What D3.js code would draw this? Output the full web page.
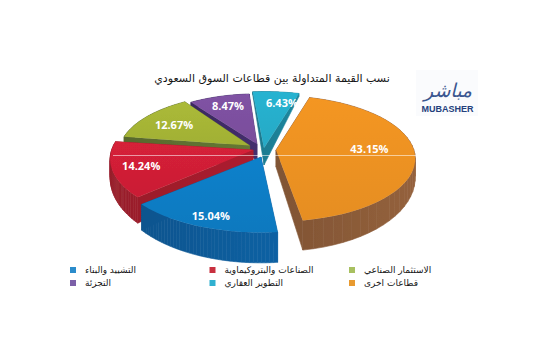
<!DOCTYPE html>
<html>
<head>
<meta charset="utf-8">
<script src="https://cdn.jsdelivr.net/npm/d3@7"></script>
<style>
  html, body { margin: 0; padding: 0; background: #fff; }
  svg { display: block; }
  .pct { font-family: "Open Sans", sans-serif; font-weight: 700; font-size: 11px; fill: #fff; text-anchor: middle; }
  .ar { font-family: "DejaVu Sans", sans-serif; direction: rtl; fill: #151515; }
</style>
</head>
<body>
<svg id="chart" width="542" height="354"></svg>
<script>
  const title = 'نسب القيمة المتداولة بين قطاعات السوق السعودي';

  // pie order, clockwise from the orange slice
  const sectors = ['قطاعات اخرى', 'التشييد والبناء', 'الصناعات والبتروكيماوية', 'الاستثمار الصناعي', 'التجزئة', 'التطوير العقاري'];
  const shares = [43.15, 15.04, 14.24, 12.67, 8.47, 6.43];
  const topColors = ['#ed9223', '#0f7dc5', '#d01f36', '#a6b536', '#7c509f', '#27aecb'];
  const wallColors = ['#8a5a38', '#0f5a98', '#a11d2c', '#5f7030', '#3f2b66', '#1c8096'];
  const keyColors = ['#e89a30', '#2b8ccb', '#c8303f', '#a8c060', '#7c60a8', '#30b0d0'];

  // legend is filled column by column, top row then bottom row
  const legendOrder = [1, 4, 2, 5, 3, 0];

  let svg = d3.select('#chart');

  let pieCenter = { x: 262, y: 150 };
  let radius = { x: 140, y: 62.7 };
  let perspective = 0.14;
  let firstSlice = 15;

  // hand fitted per slice: apex shift, radius factor, angle trims in degrees, label spot
  let apexShift = [[14, 0], [-1, 7], [-9, 0], [-12.4, -4.6], [-5, -6], [2, -2]];
  let reach = [0.985, 1.03, 1.01, 0.925, 0.9, 1.03];
  let trimFrom = [1, 4, 3, 3, 3.3, 3];
  let trimTo = [0, 4, 2, 5, 4.2, 1];
  let labelSpot = [[88, 0.67], [201, 0.885], [252, 0.81], [301, 0.66], [341, 0.696], [10, 0.82]];

  let deg = Math.PI / 180;

  let pie = d3.pie().sort(null).value(d => d)
    .startAngle(firstSlice * deg).endAngle((firstSlice + 360) * deg);
  let arcs = pie(shares);

  let colorTop = d3.scaleOrdinal().domain(sectors).range(topColors);
  let colorWall = d3.scaleOrdinal().domain(sectors).range(wallColors);
  let colorKey = d3.scaleOrdinal().domain(sectors).range(keyColors);

  function project(angle, r, apex) {
    let u = r * Math.sin(angle);
    let v = r * Math.cos(angle);
    let s = 1 / (1 + perspective * v);
    return [apex[0] + radius.x * u * s, apex[1] - radius.y * v * s, v];
  }

  function depthAt(v) {
    return v > 0 ? 17 - 14 * v : 17 - 13 * v;
  }

  function lowered(p) {
    return [p[0], p[1] + depthAt(p[2])];
  }

  let line = d3.line();

  let slices = arcs.map((a, i) => {
    let apex = [pieCenter.x + apexShift[i][0], pieCenter.y + apexShift[i][1]];
    let from = a.startAngle + trimFrom[i] * deg;
    let to = a.endAngle + trimTo[i] * deg;
    let rim = d3.range(0, 41).map(k => project(from + (to - from) * k / 40, reach[i], apex));
    return { i, name: sectors[i], apex, rim };
  });

  // back slices first so the nearer ones overlap them
  let drawOrder = [4, 3, 5, 2, 1, 0];

  let defs = svg.append('defs');
  defs.append('filter').attr('id', 'soft')
    .append('feGaussianBlur').attr('stdDeviation', 0.4);

  slices.forEach(s => {
    let base = d3.color(colorTop(s.name));
    let gradTop = defs.append('linearGradient').attr('id', `top${s.i}`)
      .attr('x1', 0).attr('y1', 0).attr('x2', 0).attr('y2', 1);
    gradTop.append('stop').attr('offset', '0%').attr('stop-color', base.brighter(0.08));
    gradTop.append('stop').attr('offset', '100%').attr('stop-color', base.darker(0.08));

    let xs = d3.extent(s.rim.concat([s.apex]), p => p[0]);
    let wall = d3.color(colorWall(s.name));
    let gradWall = defs.append('linearGradient').attr('id', `wall${s.i}`)
      .attr('gradientUnits', 'userSpaceOnUse')
      .attr('x1', xs[0]).attr('y1', 0).attr('x2', xs[1]).attr('y2', 0);
    gradWall.append('stop').attr('offset', '0%').attr('stop-color', wall.darker(0.2));
    gradWall.append('stop').attr('offset', '100%').attr('stop-color', wall.brighter(0.2));
  });

  let pieLayer = svg.append('g').attr('filter', 'url(#soft)');

  drawOrder.forEach(i => {
    let s = slices[i];
    let apexTop = [s.apex[0], s.apex[1], 0];
    let outline = [apexTop, ...s.rim];
    let g = pieLayer.append('g').attr('class', 'slice');

    // walls: every edge swept down, the top face covers the hidden part
    outline.forEach((p, k) => {
      let q = outline[(k + 1) % outline.length];
      g.append('path')
        .attr('d', line([p, q, lowered(q), lowered(p)]) + 'Z')
        .attr('fill', `url(#wall${i})`)
        .attr('stroke', `url(#wall${i})`)
        .attr('stroke-width', 0.6);
    });

    g.append('path')
      .attr('d', line(outline) + 'Z')
      .attr('fill', `url(#top${i})`);
  });

  // pale seam running across the pie
  svg.append('line')
    .attr('x1', 113).attr('x2', 416)
    .attr('y1', 155.5).attr('y2', 155.5)
    .attr('stroke', '#fff')
    .attr('stroke-opacity', 0.55)
    .attr('stroke-width', 1);

  svg.selectAll('.pct')
    .data(slices)
    .enter()
    .append('text')
    .attr('class', 'pct')
    .attr('x', d => project(labelSpot[d.i][0] * deg, labelSpot[d.i][1], d.apex)[0])
    .attr('y', d => project(labelSpot[d.i][0] * deg, labelSpot[d.i][1], d.apex)[1] + 4)
    .text(d => `${shares[d.i].toFixed(2)}%`);

  svg.append('text')
    .attr('class', 'ar')
    .attr('x', 272)
    .attr('y', 82)
    .attr('text-anchor', 'middle')
    .attr('font-size', 11)
    .text(title);

  // legend
  let legendX = d3.scalePoint().domain([0, 1, 2]).range([73, 352]);
  let legendY = d3.scalePoint().domain([0, 1]).range([270, 283]);

  let legend = svg.selectAll('.key')
    .data(legendOrder)
    .enter()
    .append('g')
    .attr('class', 'key')
    .attr('transform', (d, i) => `translate(${legendX(Math.floor(i / 2))}, ${legendY(i % 2)})`);

  legend.append('rect')
    .attr('x', -3).attr('y', -3)
    .attr('width', 6).attr('height', 6)
    .attr('fill', d => colorKey(sectors[d]));

  legend.append('text')
    .attr('class', 'ar')
    .attr('x', 12)
    .attr('y', 3)
    .attr('text-anchor', 'end')
    .attr('font-size', 9)
    .text(d => sectors[d]);

  // logo
  let logo = svg.append('g');
  logo.append('rect')
    .attr('x', 416).attr('y', 70)
    .attr('width', 62).attr('height', 46)
    .attr('fill', '#fafbfd');
  logo.append('text')
    .attr('x', 448).attr('y', 97)
    .attr('text-anchor', 'middle')
    .attr('font-family', '"DejaVu Sans", sans-serif')
    .attr('font-style', 'italic')
    .attr('font-size', 19)
    .attr('fill', '#3a5690')
    .text('مباشر');
  logo.append('text')
    .attr('x', 447.5).attr('y', 112)
    .attr('text-anchor', 'middle')
    .attr('font-family', '"Liberation Sans", sans-serif')
    .attr('font-weight', 700)
    .attr('font-size', 9)
    .attr('fill', '#24407c')
    .text('MUBASHER');
</script>
</body>
</html>
